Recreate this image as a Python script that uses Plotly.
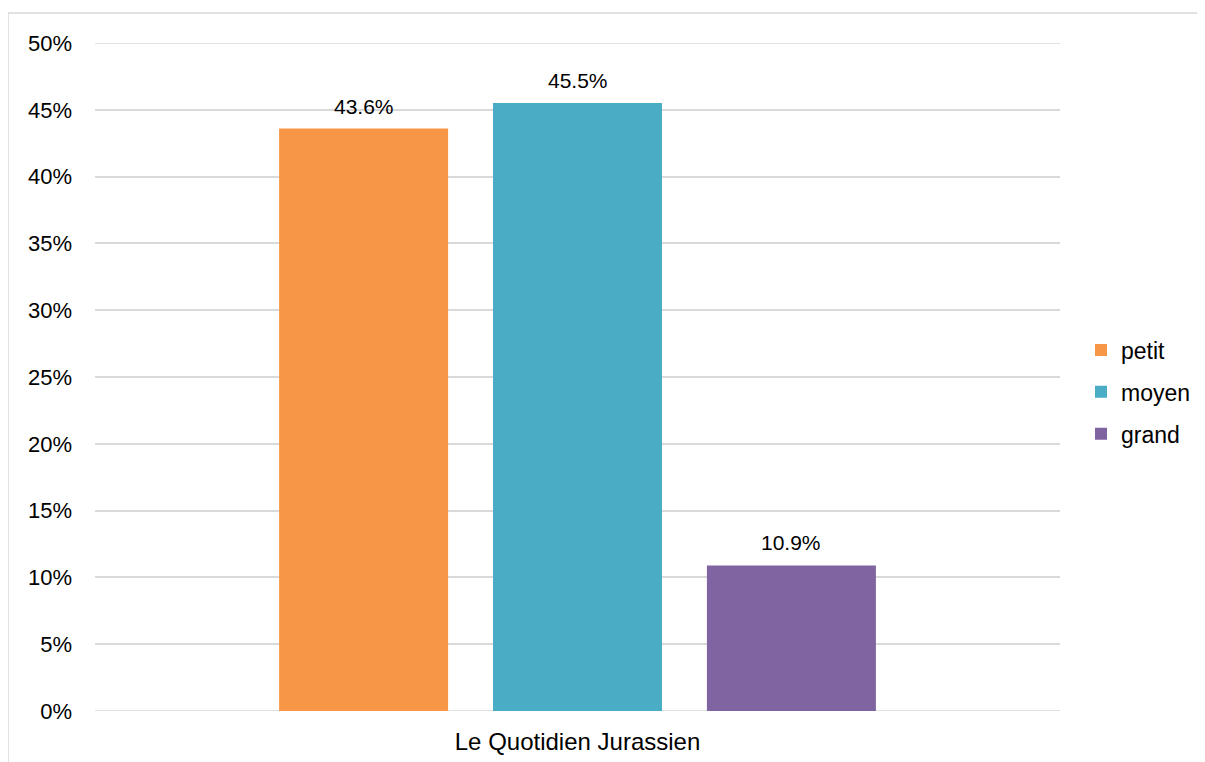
import plotly.graph_objects as go

category = ["Le Quotidien Jurassien"]
series_names = ["petit", "moyen", "grand"]
series_values = [0.436, 0.455, 0.109]
series_colors = ["#F79646", "#4BACC6", "#8064A2"]
y_tick_values = [0, 0.05, 0.10, 0.15, 0.20, 0.25, 0.30, 0.35, 0.40, 0.45, 0.50]
y_tick_labels = ["0%", "5%", "10%", "15%", "20%", "25%", "30%", "35%", "40%", "45%", "50%"]

font_family = "Liberation Sans, Arial, sans-serif"

# page body margin offset (browser default)
OFF = 8
W, H = 1205 - OFF, 762 - OFF
# plot area in screen pixels
SL, SR, ST, SB = 95, 1060, 43, 711
L, T = SL - OFF, ST - OFF
R = W - (SR - OFF)
B = H - (SB - OFF)
pw, ph = SR - SL, SB - ST

BARGAP = 0.335
BARGROUPGAP = 0.21


def px(x):
    return (x - SL) / pw


def py(y):
    return (SB - y) / ph


fig = go.Figure()
n = len(series_names)
slot_px = pw * (1 - BARGAP) / n
annotations = []
for i, (name, val, col) in enumerate(zip(series_names, series_values, series_colors)):
    fig.add_trace(go.Bar(
        x=category, y=[val], name=name, legendgroup=name,
        marker=dict(color=col, line=dict(width=0)),
        hoverinfo="name+y",
    ))
    annotations.append(dict(
        x=category[0], y=val, xref="x", yref="y",
        text=f"{val*100:.1f}%", showarrow=False,
        xanchor="center", yanchor="bottom",
        xshift=(i - (n - 1) / 2) * slot_px, yshift=9,
        font=dict(size=21, color="#000000", family=font_family),
    ))

shapes = [
    dict(type="line", xref="paper", yref="paper",
         x0=px(8), x1=px(1215), y0=py(13), y1=py(13),
         line=dict(color="#D9D9D9", width=1.5)),
    dict(type="line", xref="paper", yref="paper",
         x0=px(8), x1=px(8), y0=py(13), y1=py(775),
         line=dict(color="#D9D9D9", width=1.5)),
]
for yv in (y_tick_values[0], y_tick_values[-1]):
    shapes.append(dict(type="line", xref="paper", yref="y", layer="below",
                       x0=0, x1=1, y0=yv, y1=yv,
                       line=dict(color="#D9D9D9", width=1.5)))

fig.update_layout(
    width=W, height=H,
    margin=dict(l=L, r=R, t=T, b=B, autoexpand=False),
    paper_bgcolor="white", plot_bgcolor="white",
    font=dict(family=font_family, color="#000000", size=22),
    barmode="group", bargap=BARGAP, bargroupgap=BARGROUPGAP,
    showlegend=True,
    legend=dict(
        x=px(1081), y=py(392), xanchor="left", yanchor="middle",
        font=dict(size=23, color="#000000"),
        tracegroupgap=9, traceorder="grouped",
        itemwidth=30, bgcolor="rgba(0,0,0,0)",
    ),
    xaxis=dict(
        showgrid=False, zeroline=False, showline=False,
        tickfont=dict(size=24), ticklabelstandoff=14,
    ),
    yaxis=dict(
        range=[y_tick_values[0], y_tick_values[-1]],
        tickvals=y_tick_values, ticktext=y_tick_labels,
        showgrid=True, gridcolor="#D9D9D9", gridwidth=1.5,
        zeroline=False, showline=False,
        tickfont=dict(size=22), ticklabelstandoff=22,
    ),
    shapes=shapes,
    annotations=annotations,
)

fig.write_html("out.html")
